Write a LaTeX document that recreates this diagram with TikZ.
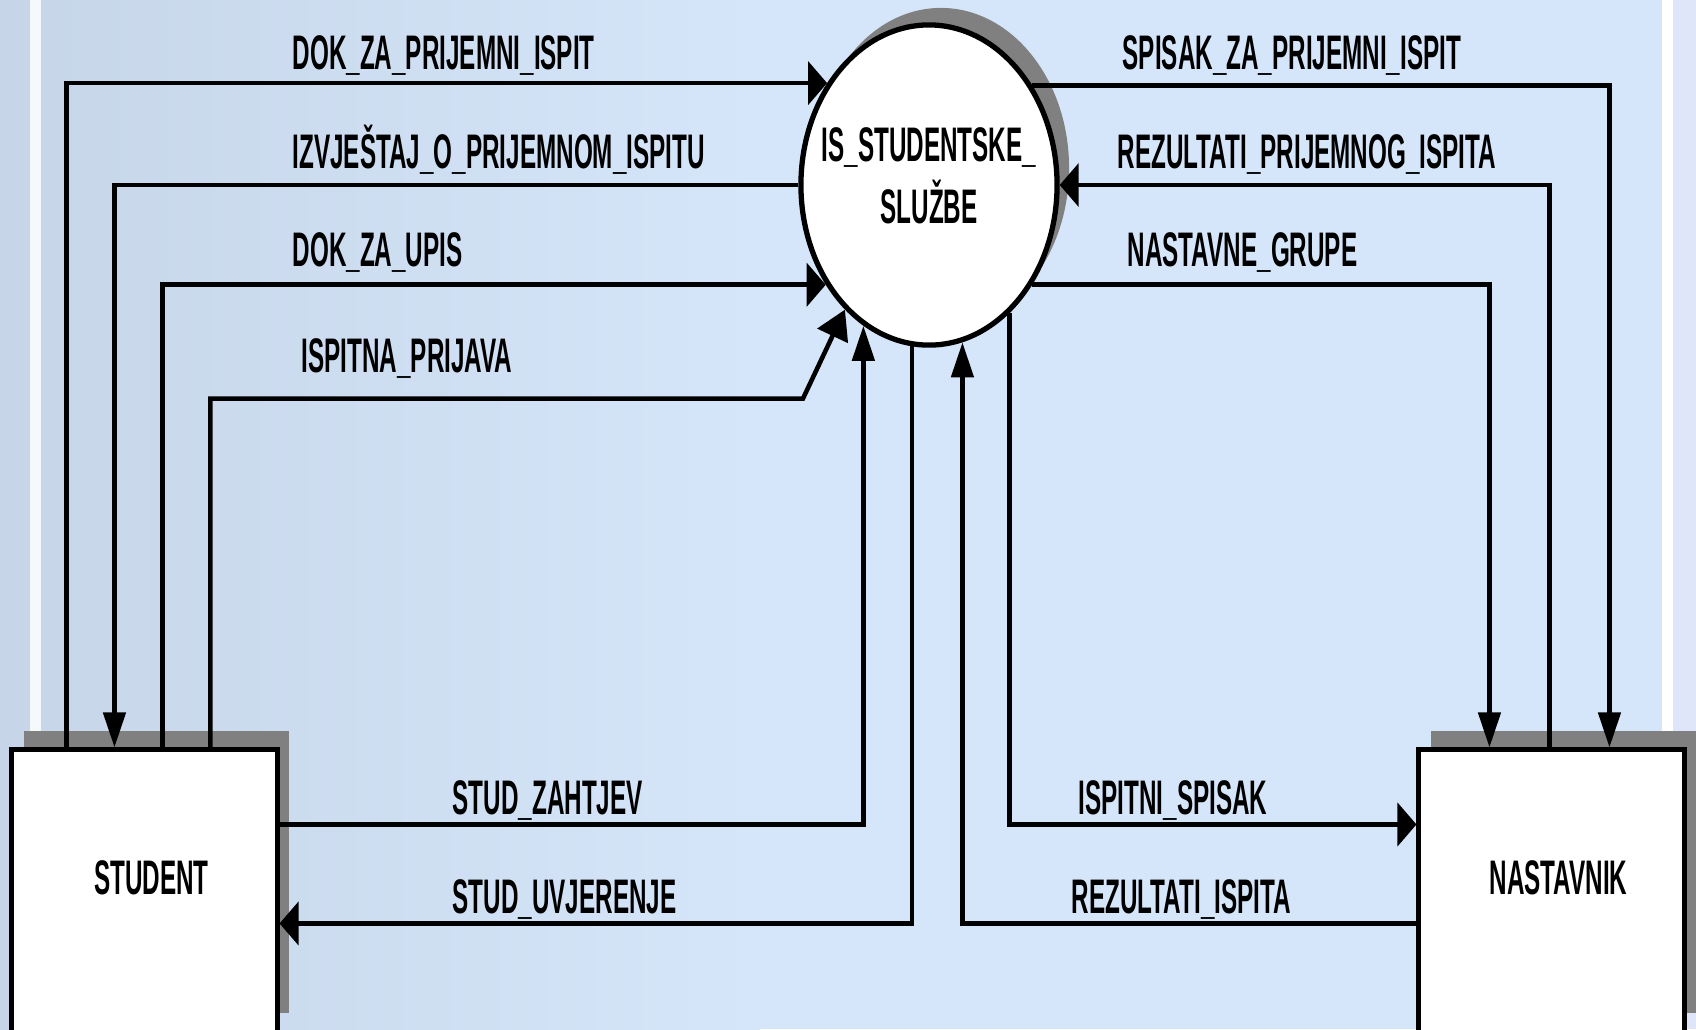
\documentclass[tikz,border=0pt]{standalone}
\usepackage{fontspec}
\newfontfamily\dfdfont[FakeStretch=0.5]{Liberation Sans}
\usetikzlibrary{positioning,calc,arrows.meta,shapes.geometric,shadows}

\definecolor{bgblue}{RGB}{214,230,250}
\definecolor{photogrey}{RGB}{198,213,232}
\definecolor{photolight}{RGB}{228,237,249}
\definecolor{edgeblue}{RGB}{224,230,250}
\definecolor{shadowgrey}{RGB}{128,128,128}

\tikzset{
  entity/.style={draw, line width=1.4pt, fill=white, rectangle,
    minimum width=2.65cm, minimum height=2.82cm, text depth=0.26cm,
    general shadow={shadow xshift=0.12cm, shadow yshift=0.19cm, fill=shadowgrey}},
  process/.style={draw, line width=1.5pt, fill=white, ellipse,
    minimum width=2.56cm, minimum height=3.2cm, inner sep=0pt,
    general shadow={shadow xshift=0.12cm, shadow yshift=0.17cm, fill=shadowgrey}},
  proctext/.style={align=center, inner sep=0pt},
  flow/.style={line width=1.3pt},
  harr/.style={flow, -{Triangle[length=0.19cm, width=0.43cm]}},
  varr/.style={flow, -{Triangle[length=0.35cm, width=0.22cm]}},
  darr/.style={flow, -{Triangle[length=0.29cm, width=0.33cm]}},
  flowlabel/.style={anchor=base west, inner sep=0pt},
}

\begin{document}
\begin{tikzpicture}[x=0.01cm, y=-0.01cm,
    font=\dfdfont\bfseries\fontsize{13.8pt}{17.6pt}\selectfont]
  % background
  \useasboundingbox (0,0) rectangle (1696,1029);
  \fill[bgblue] (0,0) rectangle (1696,1029);
  \shade[left color=photogrey, middle color=photolight, right color=bgblue]
    (0,0) rectangle (760,1029);
  \fill[white, opacity=.85] (30,0) rectangle (41,1029);
  \fill[white] (1662,0) rectangle (1673,1029);
  \fill[edgeblue] (1673,0) rectangle (1696,1029);

  % nodes
  \node[process] (iss) at (929,185) {};
  \node[proctext] (isstext) at ([yshift=0.09cm]iss.center) {IS\_STUDENTSKE\_\\SLUŽBE};
  \node[entity] (stud) at (144.5,891) {\hspace*{0.14cm}STUDENT};
  \node[entity] (nast) at (1551.5,891) {\hspace*{0.14cm}NASTAVNIK};

  % flows student <-> sluzba
  \draw[harr] ($(stud.north west)+(57,0)$) |- (iss.135.9);
  \draw[varr] (iss.180) -| ($(stud.north west)+(105,0)$);
  \draw[harr] ($(stud.north west)+(153,0)$) |- (iss.224.1);
  \draw[darr] ($(stud.north west)+(201,0)$) |- ($(iss.236.5)+(-42,89)$) -- (iss.236.5);
  \draw[varr] ($(stud.north east)+(0,77)$) -| (iss.245.2);
  \draw[harr] (iss.264.2) |- ($(stud.north east)+(0,176)$);

  % flows sluzba <-> nastavnik
  \draw[varr] (iss.44.1) -| ($(nast.north west)+(193,0)$);
  \draw[harr] ($(nast.north west)+(133,0)$) |- (iss.0);
  \draw[varr] (iss.-44.1) -| ($(nast.north west)+(73,0)$);
  \draw[harr] (iss.302.6) |- ($(nast.north west)+(0,77)$);
  \draw[varr] ($(nast.north west)+(0,176)$) -| (iss.282);

  % labels
  \node[flowlabel] (lDokPrij) at (292,69) {DOK\_ZA\_PRIJEMNI\_ISPIT};
  \node[flowlabel] (lIzvj) at (292,168) {IZVJEŠTAJ\_O\_PRIJEMNOM\_ISPITU};
  \node[flowlabel] (lDokUpis) at (292,266) {DOK\_ZA\_UPIS};
  \node[flowlabel] (lPrijava) at (301,372) {ISPITNA\_PRIJAVA};
  \node[flowlabel] (lZahtjev) at (452,814) {STUD\_ZAHTJEV};
  \node[flowlabel] (lUvjer) at (452,913) {STUD\_UVJERENJE};
  \node[flowlabel] (lSpisPrij) at (1122,69) {SPISAK\_ZA\_PRIJEMNI\_ISPIT};
  \node[flowlabel] (lRezPrij) at (1117,168) {REZULTATI\_PRIJEMNOG\_ISPITA};
  \node[flowlabel] (lGrupe) at (1127,266) {NASTAVNE\_GRUPE};
  \node[flowlabel] (lIspSpis) at (1078,814) {ISPITNI\_SPISAK};
  \node[flowlabel] (lRezIsp) at (1071,913) {REZULTATI\_ISPITA};
\end{tikzpicture}
\end{document}
